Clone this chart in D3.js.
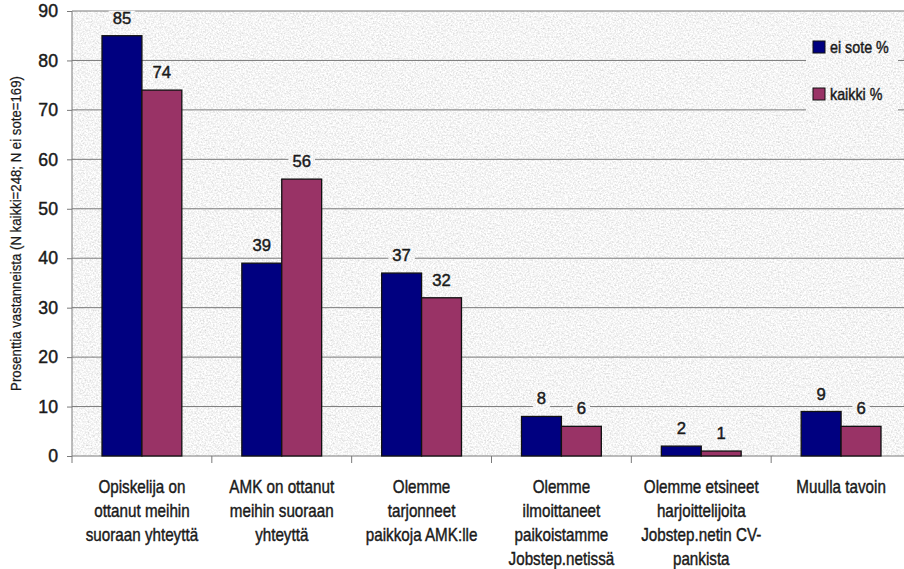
<!DOCTYPE html>
<html>
<head>
<meta charset="utf-8">
<script src="https://cdn.jsdelivr.net/npm/d3@7"></script>
<style>
  html, body { margin: 0; padding: 0; background: #ffffff; }
  svg { display: block; }
  text { font-family: "Liberation Sans", Arial, sans-serif; fill: #1a1a1a; stroke: #1a1a1a; stroke-width: 0.45px; }
</style>
</head>
<body>
<svg id="chart" width="904" height="569"></svg>
<script>
// Survey: how workplaces have found trainees (percent of respondents)
const categories = [
  "Opiskelija on ottanut meihin suoraan yhteyttä",
  "AMK on ottanut meihin suoraan yhteyttä",
  "Olemme tarjonneet paikkoja AMK:lle",
  "Olemme ilmoittaneet paikoistamme Jobstep.netissä",
  "Olemme etsineet harjoittelijoita Jobstep.netin CV-pankista",
  "Muulla tavoin"
];
// Wrapped lines of each category label, as printed under the axis
const categoryLines = [
  ["Opiskelija on", "ottanut meihin", "suoraan yhteyttä"],
  ["AMK on ottanut", "meihin suoraan", "yhteyttä"],
  ["Olemme", "tarjonneet", "paikkoja AMK:lle"],
  ["Olemme", "ilmoittaneet", "paikoistamme", "Jobstep.netissä"],
  ["Olemme etsineet", "harjoittelijoita", "Jobstep.netin CV-", "pankista"],
  ["Muulla tavoin"]
];
const seriesNames = ["ei sote %", "kaikki %"];
const eiSote = [85, 39, 37, 8, 2, 9];
const kaikki = [74, 56, 32, 6, 1, 6];
const yTicks = [0, 10, 20, 30, 40, 50, 60, 70, 80, 90];
const yTitle = "Prosenttia vastanneista (N kaikki=248; N ei sote=169)";

const colors = ["#000080", "#993366"];
const seriesValues = [eiSote, kaikki];

const svg = d3.select("#chart");
const W = 904, H = 569;

// Condensed look: squeeze each text run horizontally
function narrow(sel, k) {
  sel.each(function () {
    const len = this.getComputedTextLength();
    d3.select(this)
      .attr("textLength", len * k)
      .attr("lengthAdjust", "spacingAndGlyphs");
  });
}

// Plot area (the right edge runs slightly past the visible frame)
const plot = { left: 72, top: 11, right: 911, bottom: 456 };

const x0 = d3.scaleBand()
  .domain(categories)
  .range([plot.left, plot.right])
  .paddingInner(0).paddingOuter(0);

const x1 = d3.scaleBand()
  .domain(seriesNames)
  .range([x0.bandwidth() * 0.2146, x0.bandwidth() * 0.7854])
  .padding(0);

const y = d3.scaleLinear().domain([0, 90]).range([plot.bottom, plot.top]);

// Granite-like grain for the plot background
const defs = svg.append("defs");
const grain = defs.append("filter")
  .attr("id", "grain")
  .attr("filterUnits", "userSpaceOnUse")
  .attr("x", 0).attr("y", 0).attr("width", W).attr("height", H);
grain.append("feTurbulence")
  .attr("type", "fractalNoise")
  .attr("baseFrequency", 0.6)
  .attr("numOctaves", 3)
  .attr("seed", 7)
  .attr("result", "noise");
grain.append("feColorMatrix")
  .attr("in", "noise")
  .attr("type", "matrix")
  .attr("values",
    "0.6 0 0 0 0.61  0.6 0 0 0 0.61  0.6 0 0 0 0.61  0 0 0 0 1")
  .attr("result", "gray");
grain.append("feComposite")
  .attr("in", "gray").attr("in2", "SourceGraphic").attr("operator", "in");

defs.append("clipPath").attr("id", "frame")
  .append("rect").attr("x", 0).attr("y", 0).attr("width", W).attr("height", H);

const root = svg.append("g").attr("clip-path", "url(#frame)");

root.append("rect")
  .attr("x", plot.left).attr("y", plot.top)
  .attr("width", plot.right - plot.left).attr("height", plot.bottom - plot.top)
  .attr("fill", "#000").attr("filter", "url(#grain)");

// Horizontal gridlines
root.append("g")
  .selectAll("line")
  .data(yTicks.filter(t => t > 0))
  .join("line")
  .attr("x1", plot.left).attr("x2", plot.right)
  .attr("y1", d => y(d)).attr("y2", d => y(d))
  .attr("stroke", "#7a7a7a").attr("stroke-width", 1);

// Y axis
const yAxis = d3.axisLeft(y).tickValues(yTicks).tickSize(5).tickPadding(9);
const gy = root.append("g").attr("transform", `translate(${plot.left},0)`).call(yAxis);
gy.select(".domain").attr("stroke", "#7a7a7a").attr("d", `M0,${plot.top}V${plot.bottom}`);
gy.selectAll(".tick line").attr("stroke", "#7a7a7a");
gy.selectAll(".tick text")
  .attr("font-size", 18)
  .style("font-family", "'Liberation Sans', Arial, sans-serif")
  .attr("fill", "#1a1a1a")
  .call(narrow, 0.98);

// X axis: ticks at category boundaries
const boundaries = categories.map(c => x0(c)).concat([x0(categories[categories.length - 1]) + x0.bandwidth()]);
root.append("line")
  .attr("x1", plot.left).attr("x2", plot.right)
  .attr("y1", plot.bottom).attr("y2", plot.bottom)
  .attr("stroke", "#7a7a7a");
root.append("g").selectAll("line")
  .data(boundaries)
  .join("line")
  .attr("x1", d => d).attr("x2", d => d)
  .attr("y1", plot.bottom).attr("y2", plot.bottom + 7)
  .attr("stroke", "#7a7a7a");

// Bars
const groups = root.append("g").selectAll("g")
  .data(categories)
  .join("g")
  .attr("transform", d => `translate(${x0(d)},0)`);

groups.selectAll("rect")
  .data((d, i) => seriesNames.map((s, j) => ({ s, v: seriesValues[j][i], j })))
  .join("rect")
  .attr("x", d => x1(d.s))
  .attr("width", x1.bandwidth())
  .attr("y", d => y(d.v))
  .attr("height", d => y(0) - y(d.v))
  .attr("fill", d => colors[d.j])
  .attr("stroke", "#111")
  .attr("stroke-width", 1.3);

// Value labels on a grain-filled backing, so they cut through gridlines
const labels = groups.selectAll("g.val")
  .data((d, i) => seriesNames.map((s, j) => ({ s, v: seriesValues[j][i], j })))
  .join("g").attr("class", "val");

labels.append("rect")
  .attr("fill", "#000").attr("filter", "url(#grain)");
labels.append("text")
  .attr("x", d => x1(d.s) + x1.bandwidth() / 2)
  .attr("y", d => y(d.v) - 12)
  .attr("text-anchor", "middle")
  .attr("font-size", 17)
  .text(d => d3.format("d")(d.v))
  .call(narrow, 0.98);
labels.each(function () {
  const g = d3.select(this);
  const b = g.select("text").node().getBBox();
  g.select("rect")
    .attr("x", b.x - 4).attr("y", b.y + 2)
    .attr("width", b.width + 8).attr("height", b.height - 2);
});

// Category labels
const catText = svg.append("g").selectAll("text")
  .data(categories)
  .join("text")
  .attr("text-anchor", "middle")
  .attr("font-size", 19)
  .attr("transform", d => `translate(${x0(d) + x0.bandwidth() / 2},${plot.bottom + 37})`);
catText.selectAll("tspan")
  .data((d, i) => categoryLines[i])
  .join("tspan")
  .attr("x", 0)
  .attr("dy", (d, i) => i === 0 ? 0 : 24)
  .text(d => d)
  .call(narrow, 0.8);

// Y axis title
svg.append("text")
  .attr("transform", `translate(21,${(plot.top + plot.bottom) / 2}) rotate(-90)`)
  .attr("text-anchor", "middle")
  .attr("font-size", 15)
  .style("stroke-width", "0.25px")
  .text(yTitle)
  .call(narrow, 0.88);

// Legend
const legend = root.append("g");
legend.append("rect")
  .attr("x", 806).attr("y", 28).attr("width", 92).attr("height", 88)
  .attr("fill", "#000").attr("filter", "url(#grain)");
const items = legend.selectAll("g.item")
  .data(seriesNames)
  .join("g").attr("class", "item")
  .attr("transform", (d, i) => `translate(813,${41 + i * 47})`);
items.append("rect")
  .attr("width", 12).attr("height", 12)
  .attr("fill", (d, i) => colors[i])
  .attr("stroke", "#111").attr("stroke-width", 1);
items.append("text")
  .attr("x", 17).attr("y", 12)
  .attr("font-size", 17)
  .text(d => d)
  .call(narrow, 0.84);
</script>
</body>
</html>
